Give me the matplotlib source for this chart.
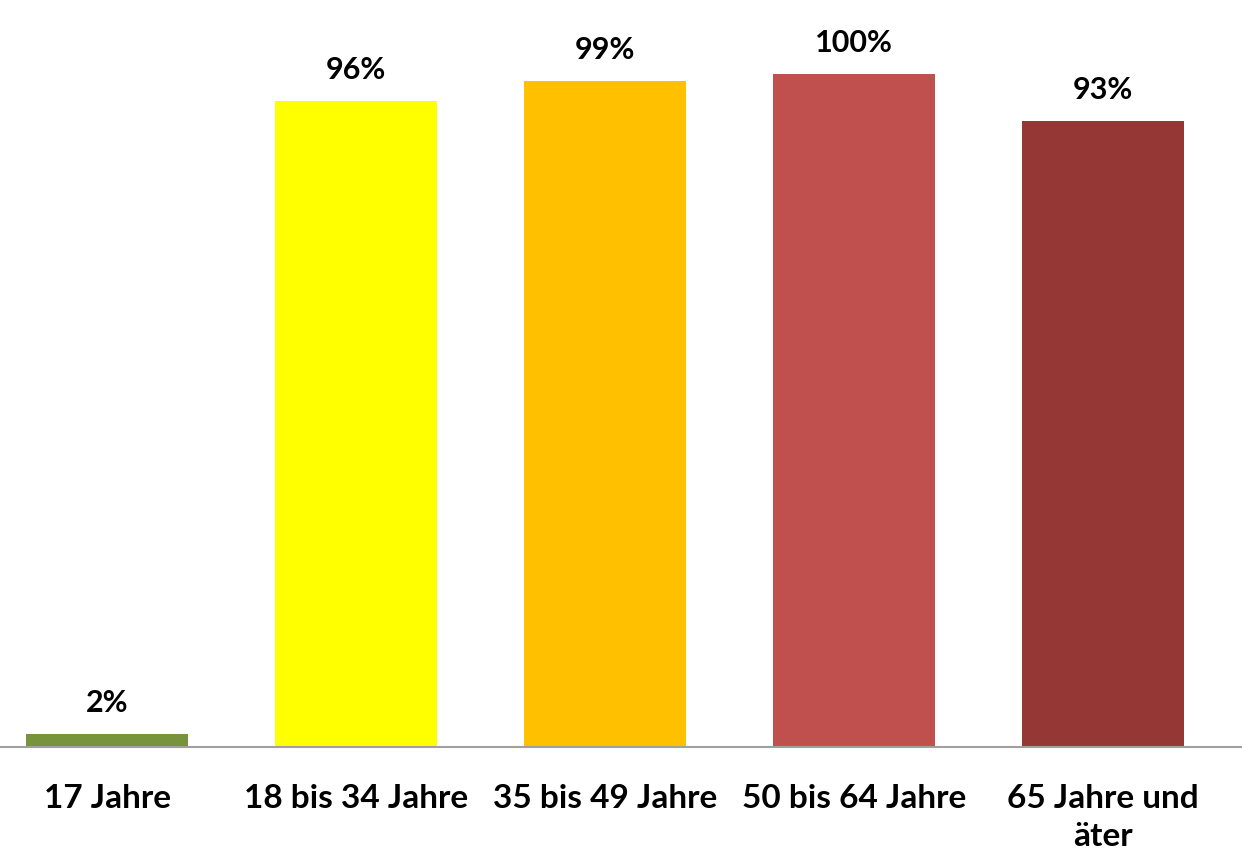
import matplotlib
matplotlib.use('Agg')
from matplotlib import pyplot as plt

categories = ['17 Jahre', '18 bis 34 Jahre', '35 bis 49 Jahre', '50 bis 64 Jahre', '65 Jahre und\näter']
values = [2, 96, 99, 100, 93]
colors = ['#77933C', '#FFFF00', '#FFC000', '#C0504D', '#953735']

plt.rcParams['font.family'] = ['Lato', 'DejaVu Sans']

fig = plt.figure(figsize=(12.42, 8.64), dpi=100)
# axes placed so the baseline sits near the bottom labels, as in the original
ax = fig.add_axes([0, 117 / 864, 1, 747 / 864])

x = range(len(categories))
ax.bar(x, values, width=0.65, color=colors)

for xi, v in zip(x, values):
    ax.text(xi, v + 2.5, f'{v}%', ha='center', va='bottom', fontsize=22, fontweight='bold')

ax.set_xlim(-0.43, 4.558)
ax.set_ylim(0, 111)
ax.set_xticks(list(x))
ax.set_xticklabels(categories, fontsize=24, fontweight='bold', linespacing=1.35)
ax.tick_params(axis='x', length=0, pad=27)
ax.set_yticks([])
for side in ['top', 'left', 'right']:
    ax.spines[side].set_visible(False)
ax.spines['bottom'].set_color('#A0A0A0')
ax.spines['bottom'].set_linewidth(1.5)

fig.savefig('out.png', dpi=100)
